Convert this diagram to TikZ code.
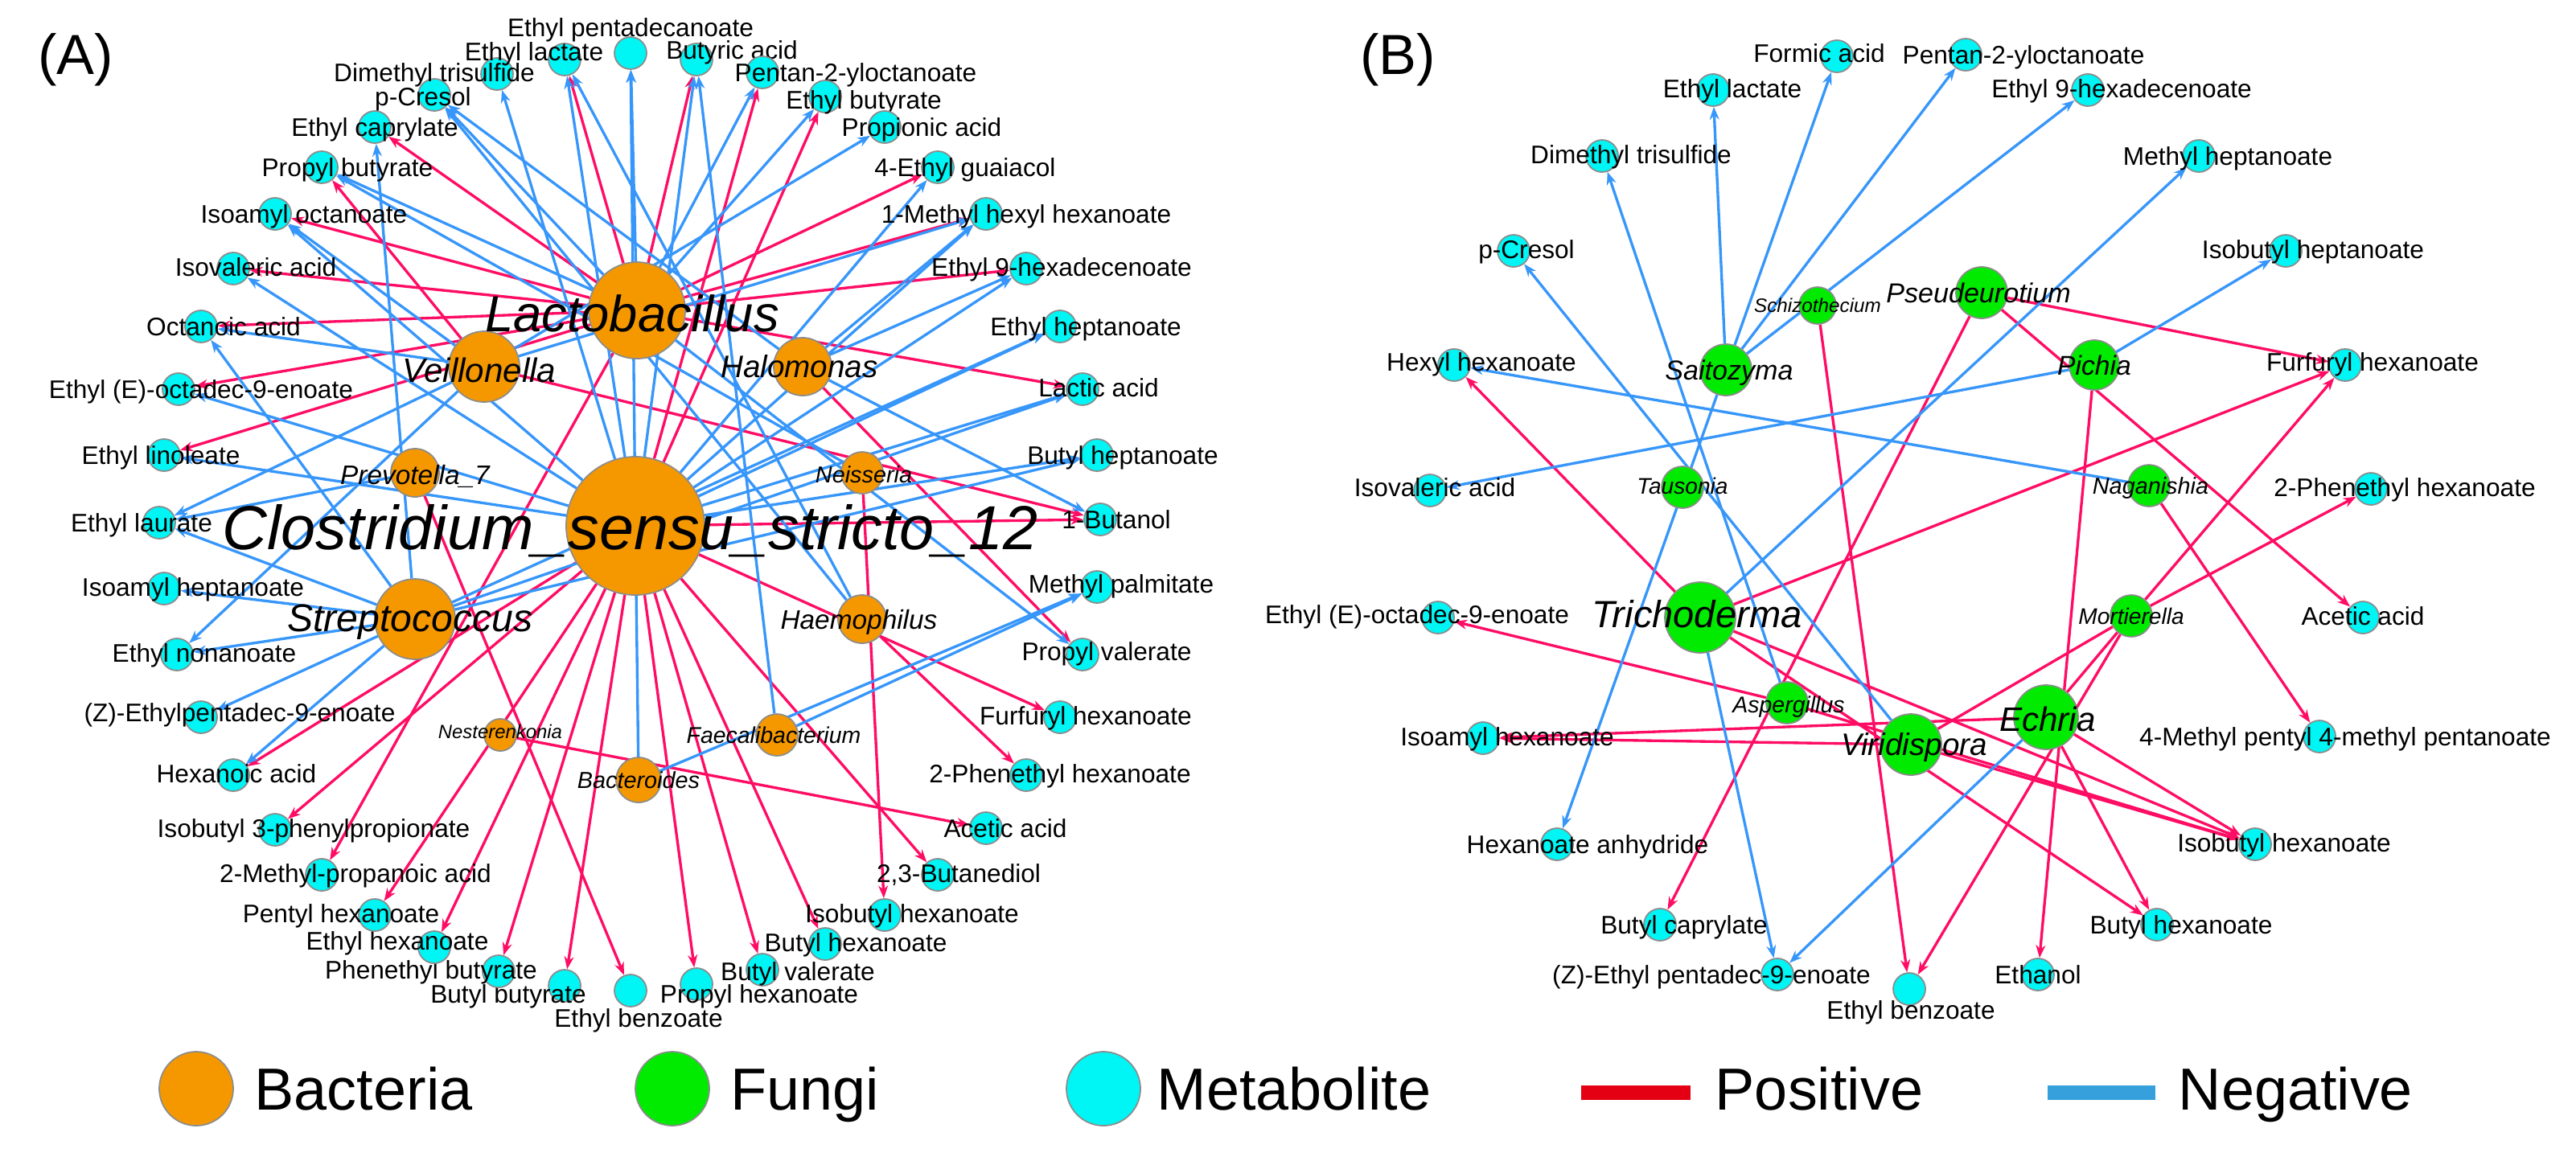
\documentclass[tikz,border=0pt]{standalone}
\usepackage{fontspec}
\setmainfont{Liberation Sans}
\usepackage{xcolor}
\usepackage{tikz}
\usetikzlibrary{arrows.meta,backgrounds}

\definecolor{bactorange}{RGB}{245,152,0}
\definecolor{fungigreen}{RGB}{0,235,0}
\definecolor{metcyan}{RGB}{0,245,245}
\definecolor{rimgray}{RGB}{140,140,140}
\definecolor{posred}{RGB}{255,12,100}
\definecolor{negblue}{RGB}{55,150,250}
\definecolor{legred}{RGB}{228,0,18}
\definecolor{legblue}{RGB}{54,160,220}

\begin{document}
\begin{tikzpicture}[x=0.2mm,y=-0.2mm,
        met/.style={circle,fill=metcyan,draw=rimgray,line width=0.5pt,minimum size=4mm,inner sep=0pt},
        bact/.style={circle,fill=bactorange,draw=rimgray,line width=0.5pt,minimum size=#1,inner sep=0pt},
        fung/.style={circle,fill=fungigreen,draw=rimgray,line width=0.5pt,minimum size=#1,inner sep=0pt},
        lbl/.style={font=\fontsize{9}{10}\selectfont,inner sep=0pt,anchor=base,yshift=-3.2pt},
        taxon/.style={font=\itshape\fontsize{#1}{#1}\selectfont,inner sep=0pt,anchor=base,yshift={-0.36*#1pt}},
        panel/.style={font=\fontsize{20}{20}\selectfont,inner sep=0pt,anchor=base,yshift=-5.2pt},
        legtext/.style={font=\fontsize{21}{21}\selectfont,inner sep=0pt,anchor=base west,yshift=-7.5pt},
        poslink/.style={draw=posred,line width=0.95pt},
        neglink/.style={draw=negblue,line width=0.95pt},
        posedge/.style={poslink,-{Stealth[length=4.5pt,width=3.4pt]}},
        negedge/.style={neglink,-{Stealth[length=4.5pt,width=3.4pt]}}]

    % whole page, in units of 0.2mm
    \useasboundingbox (0,0) rectangle (1601.5,716.5);

    \node[panel] (panelA) at (47,37) {(A)};
    \node[panel] (panelB) at (869,37) {(B)};

    % Panel A: metabolites on the outer ring
    % name / circle x / circle y / label x / label y / text
    \foreach \n/\x/\y/\lx/\ly/\t in {
        aEEO/111/242/125/242/{Ethyl (E)-octadec-9-enoate},
        aOct/125/203/139/203/{Octanoic acid},
        aIsv/145/167/159/166/{Isovaleric acid},
        aIAO/171/133/189/133/{Isoamyl octanoate},
        aPrB/200/104/216/104/{Propyl butyrate},
        aECa/233/79/233/79/{Ethyl caprylate},
        aCre/270/59/263/60/{p-Cresol},
        aDMT/309/46/270/45/{Dimethyl trisulfide},
        aELa/351/37/332/32/{Ethyl lactate},
        aEPd/392/33/392/17/{Ethyl pentadecanoate},
        aBuA/433/37/455/31/{Butyric acid},
        aPen/474/45/532/45/{Pentan-2-yloctanoate},
        aEBu/513/60/537/62/{Ethyl butyrate},
        aPro/550/79/573/79/{Propionic acid},
        aEG/583/104/600/104/{4-Ethyl guaiacol},
        aMHH/613/133/638/133/{1-Methyl hexyl hexanoate},
        aE9H/638/167/660/166/{Ethyl 9-hexadecenoate},
        aEHp/659/203/675/203/{Ethyl heptanoate},
        aLac/673/242/683/241/{Lactic acid},
        aBHp/682/283/698/283/{Butyl heptanoate},
        aBut/684/323/694/323/{1-Butanol},
        aMPa/682/365/697/363/{Methyl palmitate},
        aPrV/673/407/688/405/{Propyl valerate},
        aFuH/659/446/675/445/{Furfuryl hexanoate},
        aPEH/638/482/659/481/{2-Phenethyl hexanoate},
        aAce/613/515/625/515/{Acetic acid},
        aBD/583/544/596/543/{2,3-Butanediol},
        aIBH/550/569/567/568/{Isobutyl hexanoate},
        aBHx/513/587/532/586/{Butyl hexanoate},
        aBV/474/603/496/604/{Butyl valerate},
        aPrH/433/612/472/618/{Propyl hexanoate},
        aEBz/392/616/397/633/{Ethyl benzoate},
        aBB/351/613/316/618/{Butyl butyrate},
        aPhB/310/604/268/603/{Phenethyl butyrate},
        aEHx/270/589/247/585/{Ethyl hexanoate},
        aPeH/233/569/212/568/{Pentyl hexanoate},
        aMPr/200/544/221/543/{2-Methyl-propanoic acid},
        aIBP/171/516/195/515/{Isobutyl 3-phenylpropionate},
        aHxA/145/482/147/481/{Hexanoic acid},
        aZEP/125/446/149/443/{(Z)-Ethylpentadec-9-enoate},
        aENo/110/407/127/406/{Ethyl nonanoate},
        aIAH/102/366/120/365/{Isoamyl heptanoate},
        aELu/99/325/88/325/{Ethyl laurate},
        aELi/102/283/100/283/{Ethyl linoleate}}{
        \node[met] (\n) at (\x,\y) {};
        \node[lbl] (\n-t) at (\lx,\ly) {\t};
    }

    % Panel A: bacteria
    \node[bact=12mm]   (Lac) at (396,193) {};
    \node[bact=17.2mm] (Clo) at (395,327) {};
    \node[bact=8.8mm]  (Vei) at (301,228) {};
    \node[bact=7.2mm]  (Hal) at (499,228) {};
    \node[bact=6mm]    (Pre) at (258,294) {};
    \node[bact=5.2mm]  (Nei) at (536,294) {};
    \node[bact=10mm]   (Str) at (258,385) {};
    \node[bact=6mm]    (Hae) at (536,385) {};
    \node[bact=4mm]    (Nes) at (311,457) {};
    \node[bact=5.2mm]  (Fae) at (483,457) {};
    \node[bact=5.6mm]  (Bac) at (397,485) {};

    \node[taxon=18]   (Lac-t) at (393,195) {Lactobacillus};
    \node[taxon=12]   (Vei-t) at (298,230) {Veillonella};
    \node[taxon=11]   (Hal-t) at (497,228) {Halomonas};
    \node[taxon=9.5]  (Pre-t) at (258,295) {Prevotella\_7};
    \node[taxon=8.2]  (Nei-t) at (537,295) {Neisseria};
    \node[taxon=13.7] (Str-t) at (255,384) {Streptococcus};
    \node[taxon=9.5]  (Hae-t) at (534,385) {Haemophilus};
    \node[taxon=6.8]  (Nes-t) at (311,455) {Nesterenkonia};
    \node[taxon=8.1]  (Fae-t) at (481,457) {Faecalibacterium};
    \node[taxon=8.2]  (Bac-t) at (397,485) {Bacteroides};
    \node[taxon=22]   (Clo-t) at (392,328) {Clostridium\_sensu\_stricto\_12};

    % Panel B: metabolites
    \foreach \n/\x/\y/\lx/\ly/\t in {
        bFor/1142/35/1131/33/{Formic acid},
        bELa/1065/56/1077/55/{Ethyl lactate},
        bDMT/996/97/1014/96/{Dimethyl trisulfide},
        bCre/941/156/949/155/{p-Cresol},
        bHHx/904/227/921/225/{Hexyl hexanoate},
        bIsv/889/305/892/303/{Isovaleric acid},
        bEEO/894/384/881/382/{Ethyl (E)-octadec-9-enoate},
        bIAH/922/459/937/458/{Isoamyl hexanoate},
        bHAn/968/525/987/525/{Hexanoate anhydride},
        bBCa/1032/575/1047/575/{Butyl caprylate},
        bZEP/1105/606/1064/606/{(Z)-Ethyl pentadec-9-enoate},
        bEBz/1187/615/1188/628/{Ethyl benzoate},
        bEth/1267/606/1267/606/{Ethanol},
        bBHx/1341/575/1356/575/{Butyl hexanoate},
        bIBH/1402/525/1420/524/{Isobutyl hexanoate},
        bMPP/1442/458/1458/458/{4-Methyl pentyl 4-methyl pentanoate},
        bAce/1469/384/1469/383/{Acetic acid},
        bPEH/1474/304/1495/303/{2-Phenethyl hexanoate},
        bFuH/1458/227/1475/225/{Furfuryl hexanoate},
        bIBHp/1421/156/1438/155/{Isobutyl heptanoate},
        bMHp/1367/97/1385/97/{Methyl heptanoate},
        bE9H/1298/56/1319/55/{Ethyl 9-hexadecenoate},
        bPen/1222/34/1258/34/{Pentan-2-yloctanoate}}{
        \node[met] (\n) at (\x,\y) {};
        \node[lbl] (\n-t) at (\lx,\ly) {\t};
    }

    % Panel B: fungi
    \node[fung=6.4mm] (Sai) at (1073,230) {};
    \node[fung=4.6mm] (Sch) at (1130,190) {};
    \node[fung=6.4mm] (Pse) at (1232,182) {};
    \node[fung=6.2mm] (Pic) at (1302,227) {};
    \node[fung=5.2mm] (Tau) at (1046,303) {};
    \node[fung=5.2mm] (Nag) at (1336,302) {};
    \node[fung=8.8mm] (Tri) at (1057,384) {};
    \node[fung=5.2mm] (Mor) at (1325,383) {};
    \node[fung=5.2mm] (Asp) at (1111,437) {};
    \node[fung=7.6mm] (Vir) at (1188,463) {};
    \node[fung=8mm]   (Ech) at (1272,446) {};

    \node[taxon=9.7]  (Sai-t) at (1075,230) {Saitozyma};
    \node[taxon=6.9]  (Sch-t) at (1130,190) {Schizothecium};
    \node[taxon=9.7]  (Pse-t) at (1230,182) {Pseudeurotium};
    \node[taxon=9.6]  (Pic-t) at (1302,227) {Pichia};
    \node[taxon=8]    (Tau-t) at (1046,302) {Tausonia};
    \node[taxon=8.2]  (Nag-t) at (1337,302) {Naganishia};
    \node[taxon=13.4] (Tri-t) at (1055,382) {Trichoderma};
    \node[taxon=8]    (Mor-t) at (1325,383) {Mortierella};
    \node[taxon=8.1]  (Asp-t) at (1112,438) {Aspergillus};
    \node[taxon=11]   (Vir-t) at (1190,463) {Viridispora};
    \node[taxon=12]   (Ech-t) at (1273,447) {Echria};

    % Connectors go underneath the circles
    \begin{scope}[on background layer]
        % Positive correlations
        \foreach \s/\t in {Lac/aEEO,Lac/aELi,Lac/aOct,Lac/aIsv,Lac/aIAO,Lac/aECa,Lac/aELa,Lac/aBuA,
                Lac/aEG,Lac/aMHH,Lac/aE9H,Lac/aLac,Lac/aMPr,
                Clo/aPen,Clo/aEBu,Clo/aBut,Clo/aFuH,Clo/aHxA,Clo/aIBP,Clo/aPeH,Clo/aEHx,Clo/aPhB,
                Clo/aBB,Clo/aPrH,Clo/aBV,Clo/aBHx,Clo/aBD,
                Vei/aPrB,Vei/aBut,Pre/aEBz,Hal/aPrV,Nei/aIBH,Hae/aPEH,Nes/aAce,
                Tri/bHHx,Pse/bFuH,Pse/bAce,Pse/bBCa,Tri/bFuH,Mor/bFuH,Mor/bPEH,Nag/bMPP,Pic/bEth,
                Sch/bEBz,Mor/bEBz,Tri/bIBH,Tri/bBHx,Asp/bEEO,Vir/bIBH,Asp/bIBH,Ech/bIAH,Vir/bIAH,
                Ech/bIBH,Ech/bBHx}{
            \draw[posedge] (\s) -- (\t);
        }
        % Negative correlations
        \foreach \s/\t in {Lac/aPrB,Lac/aCre,Lac/aEPd,Lac/aPen,Lac/aEBu,Lac/aPrV,
                Clo/aEEO,Clo/aELi,Clo/aIsv,Clo/aIAO,Clo/aDMT,Clo/aELa,Clo/aEPd,Clo/aBuA,Clo/aEG,
                Clo/aMHH,Clo/aE9H,Clo/aEHp,Clo/aLac,Clo/aBHp,
                Vei/aENo,Vei/aELu,Vei/aOct,Vei/aIAO,Vei/aPro,Vei/aMHH,
                Str/aECa,Str/aOct,Str/aELu,Str/aIAH,Str/aENo,Str/aZEP,Str/aHxA,Str/aLac,Str/aBHp,Str/aEHp,
                Pre/aELu,Hal/aCre,Hal/aMHH,Hal/aE9H,Hal/aBut,Nei/aPrB,Hae/aELa,Hae/aCre,
                Fae/aMPa,Fae/aBuA,Bac/aMPa,
                Sai/bELa,Sai/bFor,Sai/bPen,Sai/bE9H,Sai/bHAn,Vir/bCre,Asp/bDMT,Nag/bHHx,Pic/bIsv,
                Tri/bMHp,Pic/bIBHp,Ech/bZEP,Tri/bZEP}{
            \draw[negedge] (\s) -- (\t);
        }
        % links between two taxa carry no tip
        \draw[neglink] (Clo) -- (Bac);
        \draw[poslink] (Mor) -- (Vir);
        \draw[poslink] (Mor) -- (Ech);
    \end{scope}

    % Legend
    \node[bact=9.2mm] (legBact) at (122,677) {};
    \node[legtext] (legBact-t) at (158,677) {Bacteria};
    \node[fung=9.2mm] (legFung) at (418,677) {};
    \node[legtext] (legFung-t) at (454,677) {Fungi};
    \node[met,minimum size=9.2mm] (legMet) at (686,677) {};
    \node[legtext] (legMet-t) at (719,677) {Metabolite};
    \fill[legred] (983,675) rectangle (1051,684);
    \node[legtext] (legPos-t) at (1066,677) {Positive};
    \fill[legblue] (1273,675) rectangle (1340,684);
    \node[legtext] (legNeg-t) at (1354,677) {Negative};
\end{tikzpicture}
\end{document}
